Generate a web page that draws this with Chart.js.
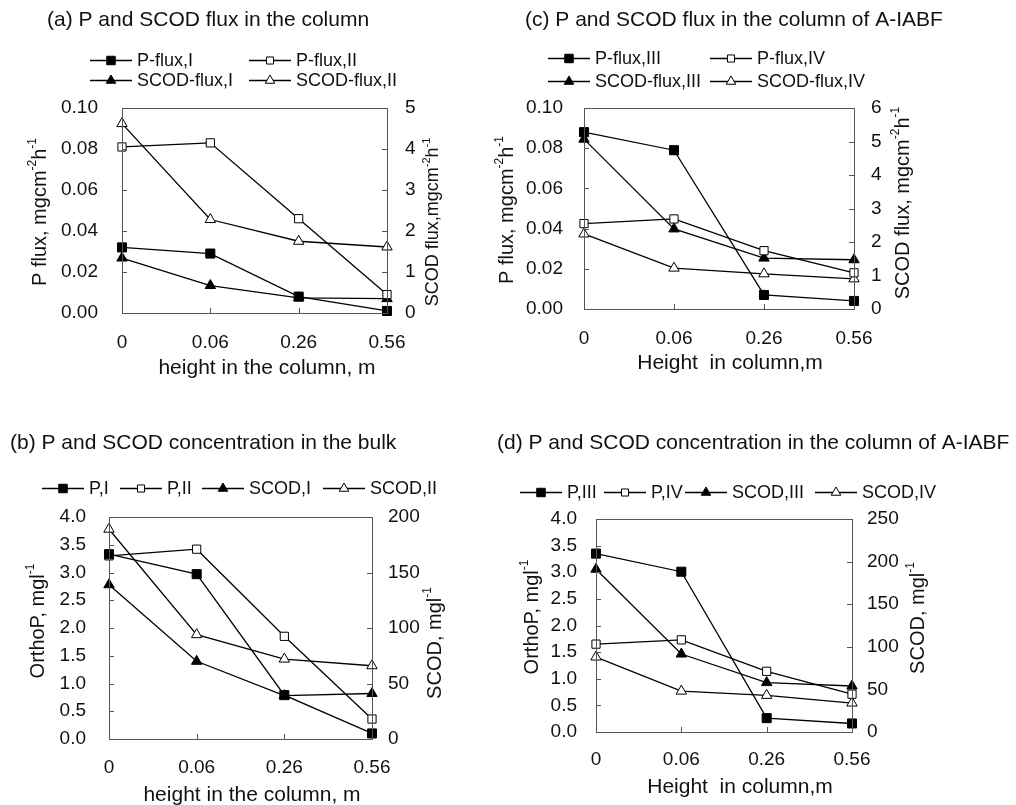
<!DOCTYPE html>
<html><head><meta charset="utf-8">
<script src="https://cdn.jsdelivr.net/npm/chart.js@4/dist/chart.umd.min.js"></script>
<style>
html,body{margin:0;padding:0;background:#fff;overflow:hidden;width:1016px;height:805px;}
canvas{position:absolute;}
</style></head><body>
<canvas id="ca" width="500" height="400" style="left:0;top:0"></canvas>
<canvas id="cc" width="536" height="400" style="left:480px;top:0"></canvas>
<canvas id="cb" width="500" height="420" style="left:0;top:400px"></canvas>
<canvas id="cd" width="536" height="420" style="left:480px;top:400px"></canvas>
<script>
// ---- categories ----
const heights = ['0', '0.06', '0.26', '0.56'];
// ---- (a) P and SCOD flux in the column ----
const pFluxI = [0.032, 0.029, 0.008, 0.001];
const pFluxII = [0.081, 0.083, 0.046, 0.009];
const scodFluxI = [1.34, 0.67, 0.37, 0.35];
const scodFluxII = [4.62, 2.28, 1.75, 1.61];
// ---- (c) P and SCOD flux in the column of A-IABF ----
const pFluxIII = [0.088, 0.079, 0.007, 0.004];
const pFluxIV = [0.0425, 0.0448, 0.029, 0.018];
const scodFluxIII = [5.07, 2.39, 1.52, 1.47];
const scodFluxIV = [2.24, 1.22, 1.05, 0.90];
// ---- (b) P and SCOD concentration in the bulk ----
const pI = [3.33, 2.97, 0.79, 0.10];
const pII = [3.30, 3.42, 1.85, 0.36];
const scodI = [139, 70, 39, 41];
const scodII = [189, 94, 72, 66];
// ---- (d) P and SCOD concentration in the column of A-IABF ----
const pIII = [3.35, 3.01, 0.26, 0.16];
const pIV = [1.65, 1.73, 1.14, 0.71];
const scodIII = [191, 91.5, 58, 54];
const scodIV = [88, 48, 43, 34];

const FONT = '"Liberation Sans", Arial, Helvetica, sans-serif';
Chart.defaults.font.family = FONT;
Chart.defaults.font.size = 19;
Chart.defaults.color = '#111';

function ds(label, data, axis, style, filled) {
  return {
    label, data, yAxisID: axis,
    borderColor: '#000', borderWidth: 1.3, tension: 0, fill: false, clip: false,
    pointStyle: style,
    pointRadius: style === 'rect' ? (filled ? 6.4 : 5.8) : 6,
    pointBackgroundColor: filled ? '#000' : '#fff',
    pointBorderColor: '#000', pointBorderWidth: 1,
    _filled: filled
  };
}

function drawMarker(ctx, style, r, x, y) {
  if (Chart.helpers && Chart.helpers.drawPoint) {
    Chart.helpers.drawPoint(ctx, {pointStyle: style, radius: r, borderWidth: 1, rotation: 0}, x, y);
    return;
  }
  ctx.beginPath();
  if (style === 'rect') { const s = r * Math.SQRT1_2; ctx.rect(x - s, y - s, 2 * s, 2 * s); }
  else { ctx.moveTo(x, y - r); ctx.lineTo(x + r * 0.866, y + r * 0.5); ctx.lineTo(x - r * 0.866, y + r * 0.5); ctx.closePath(); }
  ctx.fill(); ctx.stroke();
}

// text with ^{...} superscripts, centred at (cx, cy), rotated by rot
function drawRich(ctx, str, cx, cy, size, rot) {
  const parts = [];
  const re = /\^\{([^}]*)\}|([^^]+)/g; let m;
  while ((m = re.exec(str))) parts.push(m[1] !== undefined ? {t: m[1], sup: true} : {t: m[2], sup: false});
  const sup = Math.round(size * 0.62);
  ctx.save();
  ctx.translate(cx, cy); ctx.rotate(rot);
  ctx.textAlign = 'left'; ctx.textBaseline = 'middle'; ctx.fillStyle = '#111';
  let total = 0;
  parts.forEach(p => { ctx.font = (p.sup ? sup : size) + 'px ' + FONT; p.w = ctx.measureText(p.t).width; total += p.w; });
  let x = -total / 2;
  parts.forEach(p => { ctx.font = (p.sup ? sup : size) + 'px ' + FONT; ctx.fillText(p.t, x, p.sup ? -size * 0.36 : 0); x += p.w; });
  ctx.restore();
}

const deco = {
  id: 'deco',
  afterDraw(chart, args, o) {
    const ctx = chart.ctx, a = chart.chartArea;
    ctx.save();
    // frame
    ctx.strokeStyle = '#555'; ctx.lineWidth = 1;
    ctx.strokeRect(Math.round(a.left) + 0.5, Math.round(a.top) + 0.5, Math.round(a.right - a.left), Math.round(a.bottom - a.top));
    // inward ticks
    const L = 5;
    const yl = chart.scales.y, yr = chart.scales.y1, xs = chart.scales.x;
    ctx.beginPath();
    yl.ticks.forEach((t, i) => { const p = Math.round(yl.getPixelForTick(i)) + 0.5; ctx.moveTo(a.left, p); ctx.lineTo(a.left + L, p); });
    yr.ticks.forEach((t, i) => { const p = Math.round(yr.getPixelForTick(i)) + 0.5; ctx.moveTo(a.right, p); ctx.lineTo(a.right - L, p); });
    xs.ticks.forEach((t, i) => { const p = Math.round(xs.getPixelForTick(i)) + 0.5; ctx.moveTo(p, a.bottom); ctx.lineTo(p, a.bottom - L); });
    ctx.stroke();
    // panel title
    ctx.fillStyle = '#111'; ctx.textAlign = 'left'; ctx.textBaseline = 'middle';
    ctx.font = '21px ' + FONT;
    ctx.fillText(o.title, o.tx, o.ty);
    // axis titles
    drawRich(ctx, o.xt.text, o.xt.x, o.xt.y, 21, 0);
    drawRich(ctx, o.ylt.text, o.ylt.x, o.ylt.y, o.ylt.size || 20, -Math.PI / 2);
    drawRich(ctx, o.yrt.text, o.yrt.x, o.yrt.y, o.yrt.size || 20, -Math.PI / 2);
    // legend
    ctx.font = '18px ' + FONT;
    ctx.textAlign = 'left'; ctx.textBaseline = 'middle';
    o.legend.forEach(it => {
      const d = chart.data.datasets[it.i];
      ctx.strokeStyle = '#000'; ctx.lineWidth = 1.3;
      ctx.beginPath(); ctx.moveTo(it.x, it.y + 0.5); ctx.lineTo(it.x + 42, it.y + 0.5); ctx.stroke();
      ctx.lineWidth = 1;
      ctx.fillStyle = d._filled ? '#000' : '#fff';
      drawMarker(ctx, d.pointStyle, d.pointStyle === 'rect' ? (d._filled ? 6 : 5) : 5.5, it.x + 21, it.y + 0.5);
      ctx.fillStyle = '#111';
      ctx.fillText(d.label, it.x + 47, it.y + 1);
    });
    ctx.restore();
  }
};

function makeChart(id, p) {
  new Chart(document.getElementById(id), {
    type: 'line',
    data: { labels: heights, datasets: p.datasets },
    options: {
      responsive: false, maintainAspectRatio: false, animation: false,
      layout: { padding: p.pad },
      plugins: { legend: { display: false }, tooltip: { enabled: false }, deco: p.deco },
      scales: {
        x: {
          type: 'category', offset: false,
          grid: { display: false, drawTicks: false }, border: { display: false },
          ticks: { padding: p.xPad, autoSkip: false, maxRotation: 0, font: { size: 19 } },
          afterFit: s => { s.height = p.hx; }
        },
        y: {
          position: 'left', min: 0, max: p.yl.max,
          grid: { display: false, drawTicks: false }, border: { display: false },
          ticks: { stepSize: p.yl.step, padding: p.yl.pad, callback: v => Number(v).toFixed(p.yl.dec), font: { size: 19 } },
          afterFit: s => { s.width = p.wl; }
        },
        y1: {
          position: 'right', min: 0, max: p.yr.max,
          grid: { display: false, drawTicks: false }, border: { display: false },
          ticks: { stepSize: p.yr.step, padding: p.yr.pad, callback: v => String(Math.round(v)), font: { size: 19 } },
          afterFit: s => { s.width = p.wr; }
        }
      }
    },
    plugins: [deco]
  });
}

makeChart('ca', {
  datasets: [
    ds('P-flux,I', pFluxI, 'y', 'rect', true),
    ds('P-flux,II', pFluxII, 'y', 'rect', false),
    ds('SCOD-flux,I', scodFluxI, 'y1', 'triangle', true),
    ds('SCOD-flux,II', scodFluxII, 'y1', 'triangle', false)
  ],
  pad: { left: 24, right: 52, top: 108, bottom: 16 }, wl: 98, wr: 61, hx: 71, xPad: 18,
  yl: { max: 0.1, step: 0.02, dec: 2, pad: 24 },
  yr: { max: 5, step: 1, pad: 18 },
  deco: { title: '(a) P and SCOD flux in the column', tx: 47, ty: 20,
    xt: { text: 'height in the column, m', x: 267, y: 368 },
    ylt: { text: 'P flux, mgcm^{-2}h^{-1}', x: 40, y: 212 },
    yrt: { text: 'SCOD flux,mgcm^{-2}h^{-1}', x: 433, y: 222, size: 18 },
    legend: [{i:0,x:90,y:60},{i:1,x:249,y:60},{i:2,x:90,y:80},{i:3,x:249,y:80}] }
});

makeChart('cc', {
  datasets: [
    ds('P-flux,III', pFluxIII, 'y', 'rect', true),
    ds('P-flux,IV', pFluxIV, 'y', 'rect', false),
    ds('SCOD-flux,III', scodFluxIII, 'y1', 'triangle', true),
    ds('SCOD-flux,IV', scodFluxIV, 'y1', 'triangle', false)
  ],
  pad: { left: 11, right: 97, top: 108, bottom: 21 }, wl: 93, wr: 65, hx: 70, xPad: 18,
  yl: { max: 0.1, step: 0.02, dec: 2, pad: 21 },
  yr: { max: 6, step: 1, pad: 17 },
  deco: { title: '(c) P and SCOD flux in the column of A-IABF', tx: 45, ty: 20,
    xt: { text: 'Height  in column,m', x: 250, y: 363 },
    ylt: { text: 'P flux, mgcm^{-2}h^{-1}', x: 27, y: 210 },
    yrt: { text: 'SCOD flux, mgcm^{-2}h^{-1}', x: 423, y: 203 },
    legend: [{i:0,x:68,y:58},{i:1,x:230,y:58},{i:2,x:68,y:81},{i:3,x:230,y:81}] }
});

makeChart('cb', {
  datasets: [
    ds('P,I', pI, 'y', 'rect', true),
    ds('P,II', pII, 'y', 'rect', false),
    ds('SCOD,I', scodI, 'y1', 'triangle', true),
    ds('SCOD,II', scodII, 'y1', 'triangle', false)
  ],
  pad: { left: 22, right: 49, top: 117, bottom: 9 }, wl: 87, wr: 79, hx: 72, xPad: 17,
  yl: { max: 4, step: 0.5, dec: 1, pad: 23 },
  yr: { max: 200, step: 50, pad: 16 },
  deco: { title: '(b) P and SCOD concentration in the bulk', tx: 10, ty: 43,
    xt: { text: 'height in the column, m', x: 252, y: 395 },
    ylt: { text: 'OrthoP, mgl^{-1}', x: 38, y: 221 },
    yrt: { text: 'SCOD, mgl^{-1}', x: 435, y: 243 },
    legend: [{i:0,x:42,y:88},{i:1,x:120,y:88},{i:2,x:202,y:88},{i:3,x:323,y:88}] }
});

makeChart('cd', {
  datasets: [
    ds('P,III', pIII, 'y', 'rect', true),
    ds('P,IV', pIV, 'y', 'rect', false),
    ds('SCOD,III', scodIII, 'y1', 'triangle', true),
    ds('SCOD,IV', scodIV, 'y1', 'triangle', false)
  ],
  pad: { left: 36, right: 82, top: 119, bottom: 17 }, wl: 80, wr: 82, hx: 71, xPad: 16,
  yl: { max: 4, step: 0.5, dec: 1, pad: 19 },
  yr: { max: 250, step: 50, pad: 15 },
  deco: { title: '(d) P and SCOD concentration in the column of A-IABF', tx: 17, ty: 43,
    xt: { text: 'Height  in column,m', x: 260, y: 387 },
    ylt: { text: 'OrthoP, mgl^{-1}', x: 52, y: 217 },
    yrt: { text: 'SCOD, mgl^{-1}', x: 438, y: 218 },
    legend: [{i:0,x:40,y:92},{i:1,x:124,y:92},{i:2,x:205,y:92},{i:3,x:335,y:92}] }
});
</script>
</body></html>
